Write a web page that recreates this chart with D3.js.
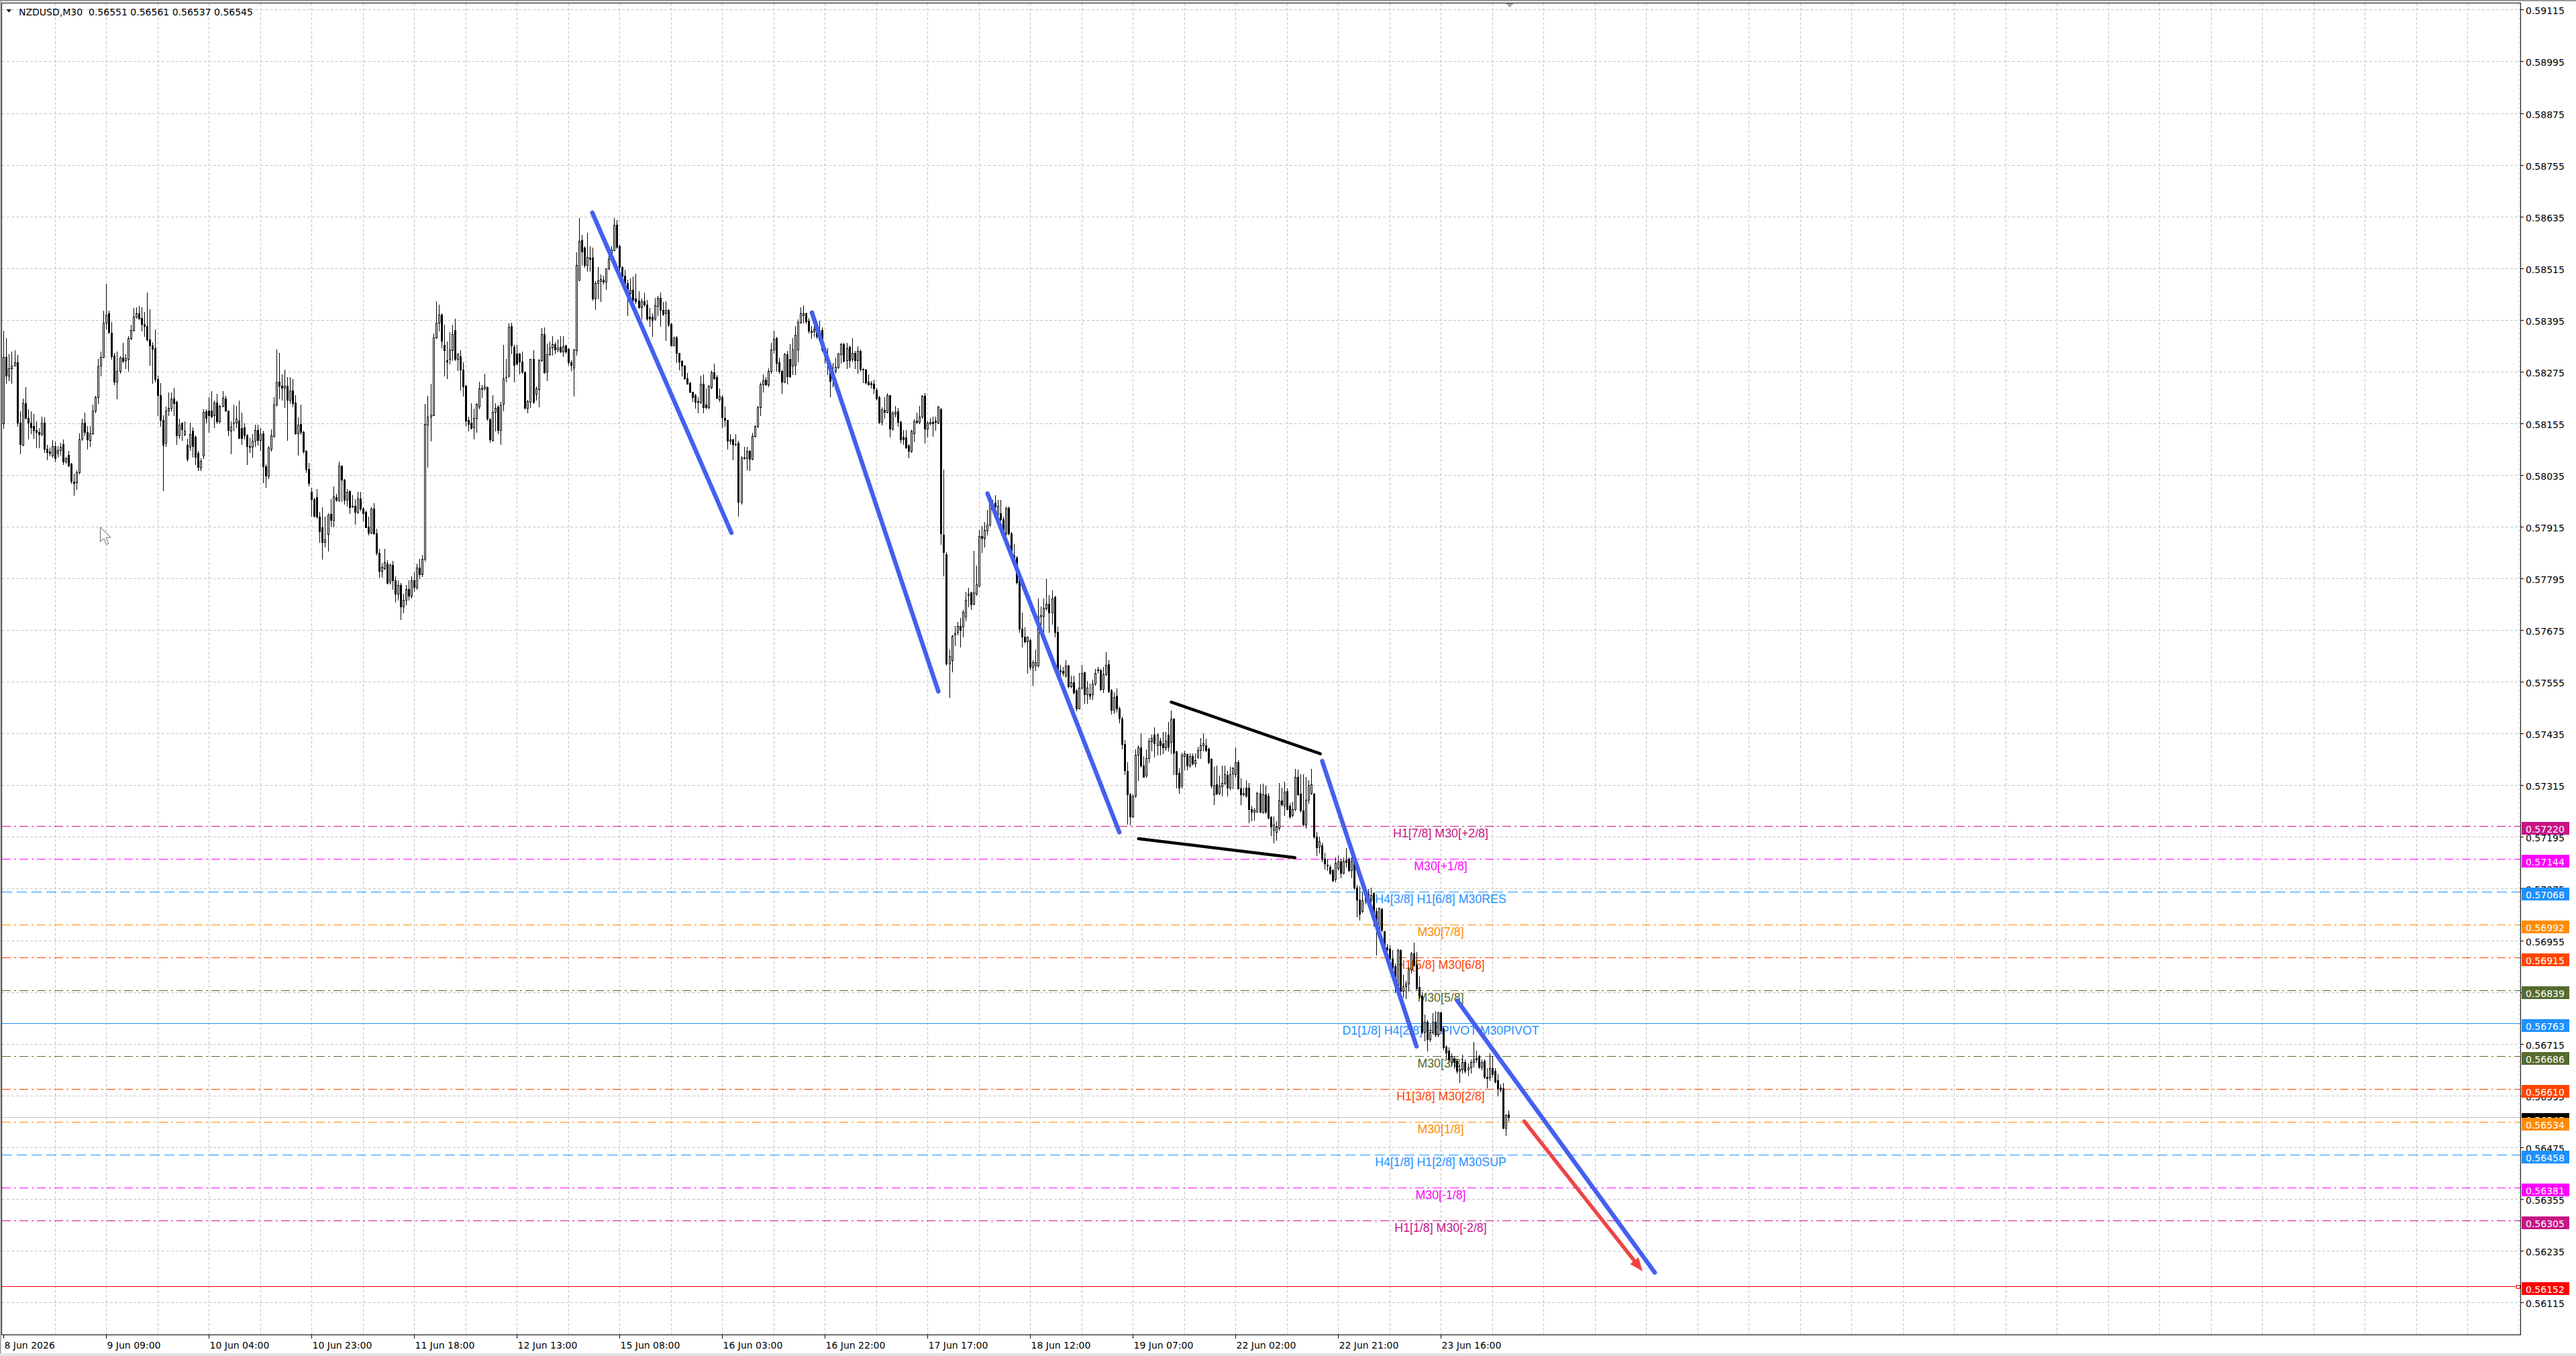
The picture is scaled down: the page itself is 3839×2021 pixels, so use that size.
<!DOCTYPE html>
<html><head><meta charset="utf-8">
<script src="https://cdn.jsdelivr.net/npm/d3@7"></script>
<style>body{margin:0;background:#fff;overflow:hidden}svg{display:block}</style>
</head><body>
<svg id="c" width="3839" height="2021"></svg>
<script>
// ---- DATA (prices in 1e-5 units above 0.56000) ----
const BASE = 0.56, UNIT = 1e-5;
const opens = [2155,2309,2265,2283,2289,2296,2157,2105,2201,2167,2157,2149,2139,2135,2130,2157,2095,2089,2080,2102,
2087,2092,2107,2066,2082,2061,2020,2018,2041,2119,2156,2135,2116,2132,2184,2216,2288,2309,2388,2410,
2365,2312,2252,2277,2308,2302,2305,2352,2371,2402,2411,2400,2386,2381,2350,2336,2329,2258,2221,2163,
2109,2184,2191,2213,2205,2127,2156,2130,2105,2100,2138,2124,2086,2052,2080,2183,2185,2184,2174,2203,
2160,2195,2213,2184,2138,2156,2156,2161,2144,2145,2127,2102,2100,2115,2140,2116,2131,2055,2034,2096,
2126,2199,2251,2242,2238,2242,2210,2231,2203,2132,2154,2134,2091,2049,1996,1979,1983,1938,1913,1879,
1898,1944,1931,1983,1977,2056,2024,1978,1997,1963,1963,1950,1981,1957,1950,1915,1901,1957,1899,1854,
1812,1818,1829,1787,1826,1790,1760,1780,1730,1745,1770,1755,1790,1775,1820,1805,1840,2152,2171,2174,
2354,2388,2407,2337,2301,2304,2324,2371,2304,2310,2280,2242,2162,2156,2145,2167,2194,2235,2236,2239,
2164,2116,2181,2194,2140,2200,2261,2265,2381,2332,2317,2317,2298,2275,2190,2205,2304,2223,2235,2301,
2362,2275,2315,2331,2339,2326,2332,2322,2335,2327,2296,2284,2324,2488,2580,2563,2522,2539,2540,2445,
2480,2485,2488,2483,2514,2537,2557,2615,2566,2517,2497,2480,2457,2464,2444,2440,2424,2438,2431,2403,
2403,2397,2428,2446,2418,2410,2418,2386,2336,2354,2318,2299,2289,2259,2249,2228,2220,2206,2205,2247,
2199,2192,2239,2273,2262,2211,2216,2167,2162,2117,2118,2106,2109,1972,2076,2074,2091,2072,2126,2148,
2192,2245,2256,2245,2277,2326,2352,2296,2276,2251,2315,2304,2288,2291,2326,2390,2405,2410,2393,2370,
2368,2372,2355,2372,2328,2312,2295,2263,2276,2285,2315,2338,2301,2333,2304,2319,2301,2323,2281,2279,
2251,2249,2247,2232,2215,2158,2186,2181,2221,2142,2177,2183,2158,2123,2122,2104,2091,2132,2161,2158,
2171,2218,2142,2155,2158,2161,2156,2188,1897,1851,1598,1605,1664,1671,1685,1683,1706,1757,1762,1736,
1760,1778,1894,1888,1905,1919,1958,1971,1945,1946,1932,1900,1959,1900,1848,1844,1792,1679,1660,1649,
1652,1590,1592,1592,1706,1708,1725,1736,1715,1751,1671,1582,1581,1570,1592,1544,1554,1535,1493,1541,
1577,1525,1528,1525,1550,1583,1582,1538,1573,1596,1535,1490,1522,1493,1470,1410,1348,1294,1243,1290,
1385,1402,1360,1337,1378,1417,1432,1408,1419,1412,1402,1432,1415,1469,1394,1344,1314,1383,1387,1360,
1383,1365,1381,1396,1408,1408,1400,1376,1294,1317,1297,1312,1320,1339,1310,1342,1341,1369,1308,1294,
1310,1310,1260,1253,1254,1297,1253,1294,1290,1243,1212,1206,1216,1280,1267,1302,1267,1246,1260,1335,
1295,1256,1223,1281,1297,1295,1196,1172,1175,1145,1131,1126,1118,1097,1123,1138,1112,1141,1145,1118,
1139,1077,1050,1023,1047,1064,1050,1065,1023,983,1027,976,939,935,912,895,848,932,837,848,
854,888,925,898,847,827,743,766,726,743,766,736,787,750,709,699,672,682,675,652,
655,672,655,660,672,678,687,662,675,638,637,658,652,631,614,611,520,551];
const highs = [2369,2352,2316,2322,2324,2313,2183,2213,2239,2188,2183,2177,2160,2144,2171,2169,2105,2099,2116,2113,
2102,2110,2117,2077,2091,2063,2038,2046,2132,2165,2180,2149,2149,2199,2219,2305,2322,2416,2478,2416,
2390,2319,2322,2311,2341,2316,2358,2383,2422,2425,2427,2425,2414,2458,2419,2344,2373,2266,2249,2174,
2194,2227,2227,2238,2208,2166,2157,2160,2119,2157,2145,2127,2091,2074,2188,2188,2216,2230,2208,2224,
2199,2229,2219,2185,2160,2199,2195,2208,2179,2155,2130,2121,2130,2152,2152,2144,2138,2060,2102,2141,
2216,2326,2319,2269,2280,2262,2263,2258,2221,2169,2199,2138,2093,2063,2006,1982,2002,1949,1960,1938,
1946,1979,2009,1991,2066,2057,2026,2002,1999,1988,1979,1996,1996,1960,1952,1938,1960,1970,1910,1863,
1831,1863,1837,1829,1835,1800,1790,1785,1760,1780,1790,1800,1810,1830,1840,1850,2200,2218,2246,2363,
2439,2430,2410,2383,2345,2366,2384,2397,2319,2324,2296,2244,2171,2202,2189,2202,2251,2244,2270,2241,
2168,2220,2201,2197,2205,2337,2304,2387,2389,2337,2337,2319,2322,2275,2209,2305,2324,2241,2304,2376,
2378,2340,2345,2358,2343,2350,2357,2357,2337,2330,2301,2327,2552,2631,2592,2566,2597,2566,2563,2485,
2517,2501,2498,2514,2548,2566,2631,2626,2569,2519,2511,2488,2491,2496,2502,2462,2444,2459,2441,2423,
2410,2446,2450,2459,2436,2439,2420,2389,2355,2357,2319,2301,2291,2272,2252,2228,2223,2215,2265,2268,
2236,2244,2278,2294,2267,2236,2220,2194,2163,2130,2119,2130,2114,2078,2101,2100,2093,2133,2150,2196,
2250,2269,2263,2282,2342,2369,2355,2307,2279,2319,2323,2339,2352,2380,2396,2425,2429,2412,2400,2380,
2380,2380,2393,2377,2330,2330,2295,2295,2307,2319,2342,2342,2342,2336,2352,2323,2334,2326,2282,2281,
2269,2253,2256,2237,2218,2193,2215,2225,2221,2183,2196,2190,2161,2139,2139,2107,2139,2164,2180,2196,
2221,2225,2161,2167,2171,2171,2196,2190,2048,1856,1630,1665,1684,1694,1703,1722,1764,1773,1764,1859,
1824,1907,1916,1926,1954,1986,1977,1989,1977,1977,1938,1961,1961,1903,1875,1846,1795,1716,1681,1660,
1655,1605,1630,1748,1729,1748,1793,1757,1767,1754,1683,1595,1589,1605,1595,1570,1570,1538,1576,1595,
1579,1557,1550,1560,1585,1589,1585,1589,1624,1605,1538,1530,1540,1497,1475,1420,1368,1297,1294,1398,
1407,1435,1383,1398,1425,1432,1449,1435,1425,1439,1439,1462,1488,1470,1395,1354,1390,1395,1388,1388,
1388,1388,1405,1425,1435,1423,1402,1378,1358,1360,1337,1361,1360,1348,1358,1358,1402,1373,1331,1310,
1327,1321,1267,1263,1300,1317,1319,1314,1297,1243,1243,1232,1321,1310,1323,1307,1273,1277,1353,1351,
1341,1341,1334,1327,1353,1297,1206,1195,1182,1158,1145,1131,1121,1148,1152,1145,1148,1169,1148,1148,
1144,1084,1081,1067,1081,1074,1077,1067,1030,1031,1030,976,946,943,932,902,935,934,875,861,
892,928,949,928,871,834,783,770,760,786,791,790,790,753,712,706,692,686,681,665,
689,679,669,679,719,699,689,679,679,658,692,686,658,644,621,624,552,561];
const lows = [2144,2249,2255,2249,2288,2149,2085,2103,2166,2119,2132,2121,2099,2099,2127,2088,2071,2080,2077,2066,
2077,2082,2060,2063,2055,2016,1988,2003,2038,2116,2127,2096,2102,2130,2180,2202,2266,2308,2375,2363,
2305,2245,2213,2272,2297,2283,2277,2350,2369,2400,2397,2369,2358,2347,2291,2249,2252,2174,2149,1999,
2102,2174,2185,2174,2107,2121,2116,2127,2068,2093,2077,2060,2046,2046,2074,2157,2135,2169,2146,2155,
2157,2194,2183,2127,2085,2138,2146,2120,2107,2119,2060,2088,2077,2102,2105,2093,2018,2007,2027,2091,
2124,2195,2212,2210,2193,2116,2202,2194,2130,2082,2130,2087,2041,2010,1940,1938,1935,1879,1840,1868,
1859,1916,1915,1974,1975,1974,1968,1963,1946,1960,1921,1946,1952,1929,1913,1896,1899,1898,1849,1798,
1798,1815,1783,1782,1770,1740,1745,1700,1715,1735,1745,1750,1765,1770,1795,1800,1835,2053,2114,2173,
2353,2369,2331,2265,2259,2293,2301,2301,2278,2233,2218,2150,2137,2143,2119,2135,2189,2215,2233,2163,
2111,2114,2137,2132,2106,2184,2252,2262,2317,2252,2292,2270,2272,2189,2180,2192,2202,2210,2194,2298,
2272,2254,2314,2314,2317,2322,2320,2311,2319,2291,2278,2218,2314,2486,2522,2517,2509,2509,2441,2419,
2444,2439,2478,2467,2511,2532,2556,2561,2509,2483,2475,2405,2454,2439,2433,2423,2397,2428,2394,2381,
2357,2394,2405,2381,2405,2348,2381,2335,2335,2296,2280,2265,2257,2246,2226,2207,2190,2179,2202,2179,
2189,2189,2236,2257,2213,2207,2145,2148,2096,2106,2070,2104,1940,1968,2072,2048,2046,2070,2124,2145,
2174,2228,2244,2241,2272,2319,2276,2272,2225,2250,2247,2263,2269,2269,2298,2387,2388,2387,2365,2352,
2358,2352,2349,2323,2295,2269,2217,2241,2272,2282,2295,2298,2282,2285,2298,2282,2272,2276,2250,2247,
2244,2237,2225,2209,2155,2152,2167,2180,2123,2139,2171,2148,2110,2107,2097,2075,2088,2113,2155,2155,
2167,2110,2123,2151,2126,2139,2155,1875,1802,1595,1519,1579,1640,1665,1636,1659,1697,1729,1724,1735,
1757,1776,1856,1868,1897,1916,1954,1957,1932,1929,1897,1897,1897,1846,1837,1783,1671,1636,1646,1576,
1584,1547,1582,1589,1684,1671,1722,1670,1690,1659,1576,1557,1570,1566,1541,1541,1528,1488,1493,1538,
1506,1506,1515,1515,1547,1576,1535,1531,1570,1531,1480,1482,1485,1460,1400,1340,1226,1223,1241,1287,
1327,1358,1334,1334,1369,1395,1381,1385,1385,1388,1396,1395,1388,1341,1310,1297,1310,1351,1351,1358,
1362,1358,1378,1378,1395,1393,1365,1310,1270,1294,1294,1290,1317,1290,1305,1307,1334,1306,1270,1290,
1287,1229,1233,1234,1253,1252,1250,1250,1238,1199,1182,1188,1212,1267,1246,1258,1239,1243,1256,1292,
1254,1221,1216,1273,1294,1192,1152,1158,1138,1121,1118,1108,1091,1091,1118,1101,1110,1125,1114,1101,
1074,1010,1003,1020,1042,1042,1037,989,922,976,976,935,930,895,889,834,844,820,824,820,
837,880,895,840,820,739,722,699,720,740,731,731,739,702,682,672,665,658,648,625,
648,648,641,648,661,672,658,655,635,614,631,638,624,594,604,518,503,537];
const closes = [2309,2265,2283,2288,2296,2157,2107,2202,2167,2156,2146,2139,2135,2130,2157,2096,2088,2087,2102,2074,
2093,2100,2066,2074,2057,2021,2017,2041,2117,2155,2134,2117,2132,2184,2216,2287,2309,2388,2407,2366,
2311,2252,2276,2308,2299,2306,2352,2371,2402,2411,2398,2385,2380,2350,2336,2328,2258,2221,2163,2105,
2185,2191,2213,2202,2127,2152,2141,2138,2072,2130,2102,2077,2053,2067,2181,2167,2174,2171,2203,2160,
2195,2214,2184,2139,2147,2157,2165,2121,2121,2127,2102,2100,2115,2140,2116,2130,2055,2034,2099,2127,
2199,2251,2242,2238,2242,2210,2231,2202,2132,2152,2134,2089,2049,2016,1979,1940,1938,1904,1879,1886,
1943,1931,1985,1977,2057,2024,1977,1996,1960,1961,1950,1981,1957,1946,1914,1901,1957,1899,1854,1812,
1821,1832,1785,1826,1790,1760,1780,1730,1745,1770,1755,1790,1775,1820,1805,1840,2153,2170,2175,2354,
2388,2407,2346,2324,2298,2326,2362,2304,2315,2279,2241,2161,2154,2144,2167,2200,2236,2238,2240,2166,
2117,2181,2190,2140,2197,2259,2263,2379,2335,2291,2293,2298,2275,2190,2206,2304,2205,2236,2301,2362,
2273,2315,2331,2339,2326,2331,2322,2334,2322,2296,2291,2326,2523,2579,2554,2522,2541,2536,2444,2480,
2486,2490,2483,2514,2537,2558,2615,2564,2517,2496,2480,2465,2465,2441,2439,2424,2439,2430,2398,2398,
2394,2429,2446,2418,2409,2418,2384,2336,2354,2318,2298,2288,2259,2247,2228,2216,2204,2204,2247,2192,
2192,2242,2273,2259,2214,2219,2169,2163,2114,2114,2106,2107,1972,2075,2074,2091,2072,2126,2148,2192,
2245,2255,2245,2277,2326,2351,2295,2276,2251,2315,2264,2264,2326,2361,2390,2410,2410,2391,2370,2367,
2374,2358,2371,2326,2310,2295,2253,2276,2285,2317,2338,2300,2330,2302,2319,2301,2323,2281,2279,2250,
2245,2245,2236,2212,2158,2188,2181,2221,2143,2179,2181,2158,2117,2118,2099,2091,2137,2160,2158,2171,
2218,2142,2156,2158,2155,2158,2194,1900,1856,1598,1615,1662,1668,1685,1675,1717,1746,1760,1735,1762,
1781,1894,1888,1907,1919,1967,1970,1961,1963,1932,1900,1959,1900,1849,1843,1786,1678,1659,1649,1660,
1589,1600,1601,1706,1709,1727,1736,1716,1749,1671,1582,1579,1576,1592,1544,1554,1531,1493,1541,1576,
1525,1541,1522,1550,1576,1582,1539,1573,1595,1533,1490,1520,1493,1470,1410,1350,1294,1243,1290,1385,
1403,1360,1335,1378,1419,1425,1412,1432,1408,1402,1419,1405,1469,1390,1341,1310,1385,1388,1360,1383,
1365,1373,1396,1407,1412,1396,1369,1314,1315,1295,1314,1320,1341,1310,1341,1354,1369,1307,1294,1297,
1290,1260,1253,1258,1297,1253,1294,1253,1239,1219,1223,1219,1280,1270,1300,1260,1243,1260,1335,1294,
1256,1223,1281,1315,1317,1196,1171,1185,1145,1133,1128,1111,1094,1135,1138,1112,1139,1137,1118,1139,
1077,1050,1016,1047,1064,1050,1060,1016,983,1030,979,939,934,912,891,848,932,837,848,854,
888,925,898,844,827,743,766,726,743,766,736,787,746,706,695,679,687,672,652,657,
672,652,660,672,679,682,662,672,638,635,658,645,628,611,608,520,550,545];

const priceTickLabels = ["0.59115","0.58995","0.58875","0.58755","0.58635","0.58515","0.58395","0.58275","0.58155",
"0.58035","0.57915","0.57795","0.57675","0.57555","0.57435","0.57315","0.57195","0.57075","0.56955","0.56835",
"0.56715","0.56595","0.56475","0.56355","0.56235","0.56115"];
const timeLabels = ["8 Jun 2026","9 Jun 09:00","10 Jun 04:00","10 Jun 23:00","11 Jun 18:00","12 Jun 13:00",
"15 Jun 08:00","16 Jun 03:00","16 Jun 22:00","17 Jun 17:00","18 Jun 12:00","19 Jun 07:00","22 Jun 02:00",
"22 Jun 21:00","23 Jun 16:00"];
const timeLabelBars = [0,38,76,114,152,190,228,266,304,342,380,418,456,494,532];

const levelPrices = [0.57220,0.57144,0.57068,0.56992,0.56915,0.56839,0.56763,0.56686,0.56610,0.56534,0.56458,0.56381,0.56305,0.56152];
const levelNames = ["H1[7/8] M30[+2/8]","M30[+1/8]","H4[3/8] H1[6/8] M30RES","M30[7/8]","H1[5/8] M30[6/8]","M30[5/8]",
"D1[1/8] H4[2/8] H1PIVOT M30PIVOT","M30[3/8]","H1[3/8] M30[2/8]","M30[1/8]","H4[1/8] H1[2/8] M30SUP","M30[-1/8]","H1[1/8] M30[-2/8]",""];
const currentPrice = 0.56545;
const header = "NZDUSD,M30  0.56551 0.56561 0.56537 0.56545";

// hand-drawn trend lines: [bar index, price]
const trendStartBar   = [217.9, 299.2, 364.2, 488.1, 538.1, 432.2, 420.1];
const trendStartPrice = [0.58644, 0.58412, 0.57992, 0.57371, 0.56815, 0.57508, 0.57191];
const trendEndBar     = [269.4, 346.0, 413.0, 523.0, 611.2, 487.4, 478.0];
const trendEndPrice   = [0.57901, 0.57533, 0.57206, 0.56709, 0.56184, 0.57388, 0.57147];
const arrowBar   = [562.9, 606.7];
const arrowPrice = [0.56535, 0.56187];

// ---- STYLE ----
const levelColors = ["#C71585","#FF00FF","#1E90FF","#FF8C00","#FF4500","#556B2F","#1E90FF","#556B2F","#FF4500","#FF8C00","#1E90FF","#FF00FF","#C71585","#FF0000"];
const levelDash = ["13,5,3,5","13,5,3,5","15,7","13,5,3,5","13,5,3,5","13,5,3,5",null,"13,5,3,5","13,5,3,5","13,5,3,5","15,7","13,5,3,5","13,5,3,5",null];
const trendColors = ["#4460F0","#4460F0","#4460F0","#4460F0","#4460F0","#000000","#000000"];
const trendWidths = [6.5,6.5,6.5,6.5,6.5,4.5,4.5];
const FONT = "'DejaVu Sans', Verdana, sans-serif";
const LFONT = "'Liberation Sans', Arial, sans-serif";

// ---- LAYOUT ----
const W = 3839, H = 2021;
const L = 2.5, T = 4.5, R = 3756.5, B = 1989.5;
const pr = v => BASE + v * UNIT;
const y = d3.scaleLinear().domain([0.56115, 0.59115]).range([1941, 14.4]);
const x = d3.scaleLinear().domain([0, 557]).range([5.4, 2247.9]);
const svg = d3.select('#c');
svg.append('rect').attr('width', W).attr('height', H).attr('fill', '#fff');

// grid
const grid = svg.append('g').attr('stroke', '#c4c4c4').attr('stroke-dasharray', '4,3').attr('shape-rendering', 'crispEdges');
priceTickLabels.forEach(t => {
  const yy = Math.round(y(+t)) + 0.5;
  grid.append('line').attr('x1', L).attr('x2', R).attr('y1', yy).attr('y2', yy);
});
for (let b = 19; x(b) < R - 2; b += 19) {
  const xx = Math.round(x(b)) + 0.5;
  grid.append('line').attr('x1', xx).attr('x2', xx).attr('y1', T).attr('y2', B);
}

// level lines
const lv = svg.append('g').attr('shape-rendering', 'crispEdges');
levelPrices.forEach((p, k) => {
  const ly = Math.round(y(p)) + 0.5;
  const ln = lv.append('line').attr('x1', L).attr('x2', R).attr('y1', ly).attr('y2', ly)
    .attr('stroke', levelColors[k]).attr('stroke-width', 1);
  if (levelDash[k]) ln.attr('stroke-dasharray', levelDash[k]);
});
// current price line
const cy = Math.round(y(currentPrice)) + 0.5;
lv.append('line').attr('x1', L).attr('x2', R).attr('y1', cy).attr('y2', cy).attr('stroke', '#c0c0c0');
// red level end marker
const ry = Math.round(y(levelPrices[13])) + 0.5;
lv.append('rect').attr('x', 3750.5).attr('y', ry - 2.5).attr('width', 5).attr('height', 5).attr('fill', '#fff').attr('stroke', '#FF0000');

// level texts
const lt = svg.append('g').attr('font-family', LFONT).attr('font-size', 17.8).attr('text-anchor', 'middle');
levelPrices.forEach((p, k) => {
  if (!levelNames[k]) return;
  const ly = Math.round(y(p));
  lt.append('text').attr('x', 2147).attr('y', ly + 16.5).attr('fill', levelColors[k]).text(levelNames[k]);
});

// candles
const cg = svg.append('g').attr('shape-rendering', 'crispEdges');
opens.forEach((o, i) => {
  const c = closes[i];
  const hi = Math.max(highs[i], o, c), lo = Math.min(lows[i], o, c);
  const cx = Math.round(x(i)) + 0.5;
  const yh = Math.round(y(pr(hi))), yl = Math.round(y(pr(lo)));
  cg.append('line').attr('x1', cx).attr('x2', cx).attr('y1', yh).attr('y2', yl + 1).attr('stroke', '#000');
  const yt = Math.round(y(pr(Math.max(o, c)))), yb = Math.round(y(pr(Math.min(o, c))));
  if (c < o) {
    cg.append('rect').attr('x', cx - 1.5).attr('y', yt).attr('width', 3).attr('height', Math.max(1, yb - yt + 1)).attr('fill', '#000');
  } else if (yb - yt >= 2) {
    cg.append('rect').attr('x', cx - 1).attr('y', yt + 0.5).attr('width', 2).attr('height', yb - yt).attr('fill', '#fff').attr('stroke', '#000');
  } else {
    cg.append('rect').attr('x', cx - 1.5).attr('y', yt).attr('width', 3).attr('height', 1).attr('fill', '#000');
  }
});

// trend lines
const tg = svg.append('g').attr('stroke-linecap', 'round');
trendStartBar.forEach((b, k) => {
  tg.append('line').attr('x1', x(b)).attr('y1', y(trendStartPrice[k]))
    .attr('x2', x(trendEndBar[k])).attr('y2', y(trendEndPrice[k]))
    .attr('stroke', trendColors[k]).attr('stroke-width', trendWidths[k]);
});
// red arrow
{
  const x1 = x(arrowBar[0]), y1 = y(arrowPrice[0]), x2 = x(arrowBar[1]), y2 = y(arrowPrice[1]);
  const ang = Math.atan2(y2 - y1, x2 - x1), len = 20, hw = 8;
  const bx = x2 - len * Math.cos(ang), by = y2 - len * Math.sin(ang);
  tg.append('line').attr('x1', x1).attr('y1', y1).attr('x2', bx).attr('y2', by).attr('stroke', '#EF4444').attr('stroke-width', 5.5);
  const pts = [[x2, y2], [bx + hw * Math.sin(ang), by - hw * Math.cos(ang)], [bx - hw * Math.sin(ang), by + hw * Math.cos(ang)]];
  tg.append('polygon').attr('points', pts.map(p => p.join(',')).join(' ')).attr('fill', '#EF4444');
}

// outer window edges
svg.append('rect').attr('x', 0).attr('y', 0).attr('width', W).attr('height', 2).attr('fill', '#9a9a9a');
svg.append('rect').attr('x', 0).attr('y', 0).attr('width', 1.5).attr('height', H).attr('fill', '#9a9a9a');
svg.append('rect').attr('x', 0).attr('y', 2017).attr('width', W).attr('height', 4).attr('fill', '#e3e3e3');

// frame
svg.append('rect').attr('x', L).attr('y', T).attr('width', R - L).attr('height', B - T)
  .attr('fill', 'none').attr('stroke', '#000').attr('shape-rendering', 'crispEdges');

// price axis
const ax = svg.append('g').attr('font-family', FONT).attr('font-size', 14);
priceTickLabels.forEach(t => {
  const yy = Math.round(y(+t)) + 0.5;
  ax.append('line').attr('x1', R).attr('x2', R + 4).attr('y1', yy).attr('y2', yy).attr('stroke', '#000').attr('shape-rendering', 'crispEdges');
  ax.append('text').attr('x', 3764).attr('y', yy + 6.5).attr('fill', '#000').text(t);
});
// current price box
ax.append('rect').attr('x', 3758).attr('y', cy - 6.5).attr('width', 71).attr('height', 19).attr('fill', '#000');
ax.append('text').attr('x', 3764).attr('y', cy + 9).attr('fill', '#fff').text(currentPrice.toFixed(5));
// level boxes
levelPrices.forEach((p, k) => {
  const ly = Math.round(y(p)) + 0.5;
  ax.append('rect').attr('x', 3758).attr('y', ly - 6.5).attr('width', 71).attr('height', 19).attr('fill', levelColors[k]);
  ax.append('text').attr('x', 3764).attr('y', ly + 9).attr('fill', '#fff').text(p.toFixed(5));
});

// time axis
const tx = svg.append('g').attr('font-family', FONT).attr('font-size', 14);
timeLabels.forEach((s, k) => {
  const xx = Math.round(x(timeLabelBars[k])) + 0.5;
  tx.append('line').attr('x1', xx).attr('x2', xx).attr('y1', B).attr('y2', B + 5).attr('stroke', '#000').attr('shape-rendering', 'crispEdges');
  tx.append('text').attr('x', xx + 1).attr('y', 2010).attr('fill', '#000').text(s);
});

// header
svg.append('polygon').attr('points', '9.5,14 17,14 13.25,18.5').attr('fill', '#000');
svg.append('text').attr('x', 28).attr('y', 22.5).attr('font-family', FONT).attr('font-size', 14)
  .style('white-space', 'pre').attr('fill', '#000').text(header);

// chart shift marker
svg.append('polygon').attr('points', '2244,5 2256,5 2250,11').attr('fill', '#a8a8a8');

// mouse cursor
{
  const cp = [[0,0],[0,17],[4,13],[7,20],[9.5,19],[6.5,12],[12,12]].map(p => [149.5 + p[0] * 1.3, 785.5 + p[1] * 1.3]);
  svg.append('polygon').attr('points', cp.map(p => p.join(',')).join(' ')).attr('fill', '#fff').attr('stroke', '#666').attr('stroke-width', 1);
}
</script>
</body></html>
